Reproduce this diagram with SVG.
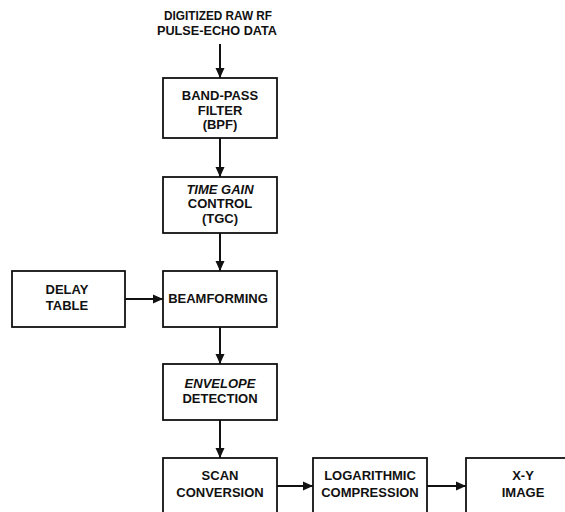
<svg xmlns="http://www.w3.org/2000/svg" width="565" height="512" viewBox="0 0 565 512">
<style>
.box{fill:#fff;stroke:#111;stroke-width:1.8}
.t{font-family:"Liberation Sans",Arial,sans-serif;font-weight:bold;font-size:13px;fill:#111;text-anchor:middle}
.i{font-style:italic}
.c{stroke:#111;stroke-width:2;fill:none}
</style>
<defs>
<marker id="ah" markerWidth="12" markerHeight="12" refX="10" refY="5.5" orient="auto" markerUnits="userSpaceOnUse">
<path d="M0,1 L10,5.5 L0,10 Z" fill="#111"/>
</marker>
</defs>
<rect width="565" height="512" fill="#fff"/>
<g id="input">
<text class="t" x="218" y="20" textLength="108" lengthAdjust="spacingAndGlyphs">DIGITIZED RAW RF</text>
<text class="t" x="217" y="35" textLength="120" lengthAdjust="spacingAndGlyphs">PULSE-ECHO DATA</text>
</g>
<g id="connectors">
<line class="c" x1="220" y1="44" x2="220" y2="78" marker-end="url(#ah)"/>
<line class="c" x1="220" y1="138" x2="220" y2="177" marker-end="url(#ah)"/>
<line class="c" x1="220" y1="233" x2="220" y2="271" marker-end="url(#ah)"/>
<line class="c" x1="125" y1="299" x2="163" y2="299" marker-end="url(#ah)"/>
<line class="c" x1="220" y1="327" x2="220" y2="364" marker-end="url(#ah)"/>
<line class="c" x1="220" y1="420" x2="220" y2="458" marker-end="url(#ah)"/>
<line class="c" x1="277" y1="486" x2="313" y2="486" marker-end="url(#ah)"/>
<line class="c" x1="427" y1="486" x2="466" y2="486" marker-end="url(#ah)"/>
</g>
<g id="bpf">
<rect class="box" x="163" y="78" width="114" height="60"/>
<text class="t" x="220" y="100">BAND-PASS</text>
<text class="t" x="220" y="115">FILTER</text>
<text class="t" x="220" y="129">(BPF)</text>
</g>
<g id="tgc">
<rect class="box" x="163" y="177" width="114" height="56"/>
<text class="t i" x="220" y="194">TIME GAIN</text>
<text class="t" x="220" y="208">CONTROL</text>
<text class="t" x="220" y="223">(TGC)</text>
</g>
<g id="delay">
<rect class="box" x="12" y="271" width="113" height="56"/>
<text class="t" x="67" y="294">DELAY</text>
<text class="t" x="67" y="310">TABLE</text>
</g>
<g id="beam">
<rect class="box" x="163" y="271" width="114" height="56"/>
<text class="t" x="218" y="303">BEAMFORMING</text>
</g>
<g id="env">
<rect class="box" x="163" y="364" width="114" height="56"/>
<text class="t i" x="220" y="388">ENVELOPE</text>
<text class="t" x="220" y="403">DETECTION</text>
</g>
<g id="scan">
<rect class="box" x="163" y="458" width="114" height="70"/>
<text class="t" x="220" y="480">SCAN</text>
<text class="t" x="220" y="497">CONVERSION</text>
</g>
<g id="log">
<rect class="box" x="313" y="458" width="114" height="70"/>
<text class="t" x="370" y="480">LOGARITHMIC</text>
<text class="t" x="370" y="497">COMPRESSION</text>
</g>
<g id="xy">
<rect class="box" x="466" y="458" width="114" height="70"/>
<text class="t" x="523" y="480">X-Y</text>
<text class="t" x="523" y="497">IMAGE</text>
</g>
</svg>
